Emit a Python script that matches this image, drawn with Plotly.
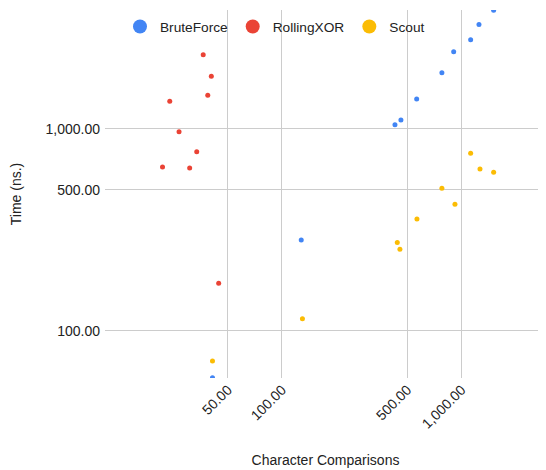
import plotly.graph_objects as go

series_names = ["BruteForce", "RollingXOR", "Scout"]
series_colors = ["#4285F4", "#EA4335", "#FBBC04"]

brute_x = [41, 128, 426, 460, 563, 778, 905, 1125, 1252, 1511]
brute_y = [58.6, 282, 1050, 1108, 1407, 1898, 2410, 2763, 3293, 3874]

xor_x = [21.6, 23.7, 26.7, 30.6, 33.5, 36.4, 38.6, 40.4, 44.4]
xor_y = [648, 1371, 970, 641, 772, 2333, 1469, 1823, 172]

scout_x = [41, 130, 439, 454, 565, 778, 920, 1125, 1268, 1511]
scout_y = [71, 115, 274, 254, 358, 509, 424, 758, 634, 611]

x_tick_vals = [50, 100, 500, 1000]
x_tick_text = ["50.00", "100.00", "500.00", "1,000.00"]
y_tick_vals = [100, 500, 1000]
y_tick_text = ["100.00", "500.00", "1,000.00"]

FONT = "Arial, Liberation Sans, sans-serif"

fig = go.Figure()
data = [(brute_x, brute_y), (xor_x, xor_y), (scout_x, scout_y)]
for (xs, ys), name, color in zip(data, series_names, series_colors):
    fig.add_trace(go.Scatter(
        x=xs, y=ys, mode="markers", name=name, legendgroup=name,
        showlegend=False, marker=dict(color=color, size=5, line=dict(width=0)),
    ))
for name, color in zip(series_names, series_colors):
    fig.add_trace(go.Scatter(
        x=[None], y=[None], mode="markers", name=name, legendgroup=name,
        showlegend=True, marker=dict(color=color, size=14, line=dict(width=0)),
    ))

fig.update_layout(
    width=538, height=462,
    margin=dict(l=97, r=0, t=2, b=92),
    paper_bgcolor="white", plot_bgcolor="white",
    font=dict(family=FONT, size=14, color="#222222"),
    showlegend=True,
    legend=dict(orientation="h", x=0.034, xanchor="left", y=0.955, yanchor="middle",
                bgcolor="rgba(0,0,0,0)", font=dict(size=13.7, color="#222222"),
                itemclick=False),
    xaxis=dict(
        type="log", range=[1.014, 3.471],
        tickvals=x_tick_vals, ticktext=x_tick_text, tickangle=-45,
        showgrid=True, gridcolor="#cccccc", gridwidth=1,
        zeroline=False, showline=False, ticks="",
        title=dict(text="Character Comparisons", standoff=24, font=dict(size=14)),
        automargin=False,
    ),
    yaxis=dict(
        type="log", range=[1.767, 3.589],
        tickvals=y_tick_vals, ticktext=y_tick_text,
        showgrid=True, gridcolor="#cccccc", gridwidth=1,
        zeroline=False, showline=False, ticks="",
        ticklabelstandoff=4,
        title=dict(text="Time (ns.)", standoff=20, font=dict(size=14)),
        automargin=False,
    ),
)

fig.write_html("out.html")
